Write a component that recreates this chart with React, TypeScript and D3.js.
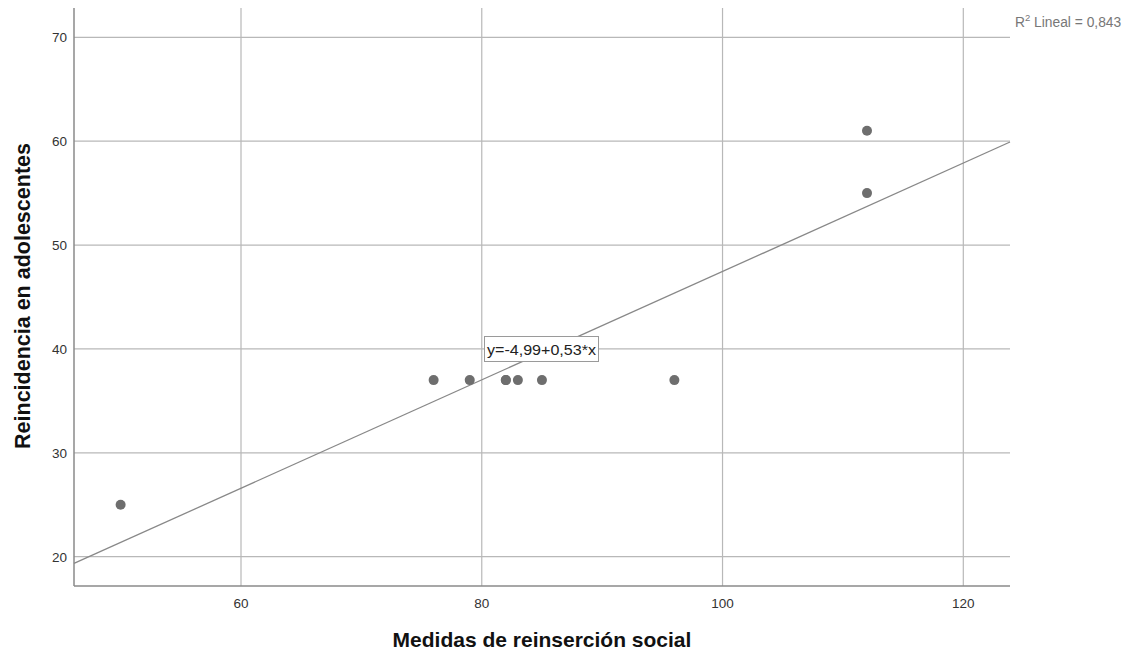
import React from "react";
import * as d3 from "d3";

const xValues = [50, 76, 79, 82, 82, 83, 85, 96, 112, 112];
const yValues = [25, 37, 37, 37, 37, 37, 37, 37, 61, 55];
const xTicks = [60, 80, 100, 120];
const yTicks = [20, 30, 40, 50, 60, 70];
const equationLabel = "y=-4,99+0,53*x";
const r2Label = "Lineal = 0,843";
const xTitle = "Medidas de reinserción social";
const yTitle = "Reincidencia en adolescentes";

const W = 1131;
const H = 657;
const left = 74;
const right = 1010;
const top = 8;
const bottom = 586;

export default function App() {
  const x = d3.scaleLinear().domain([60, 120]).range([241, 963.3]);
  const y = d3.scaleLinear().domain([20, 70]).range([556.7, 37.3]);
  const xMin = x.invert(left);
  const xMax = x.invert(right);

  const mx = d3.mean(xValues)!;
  const my = d3.mean(yValues)!;
  let sxy = 0, sxx = 0;
  xValues.forEach((v, i) => {
    sxy += (v - mx) * (yValues[i] - my);
    sxx += (v - mx) * (v - mx);
  });
  const slope = sxy / sxx;
  const intercept = my - slope * mx;
  const line = d3.line<number>().x((d) => x(d)).y((d) => y(intercept + slope * d));

  const font = "Arial, 'Liberation Sans', sans-serif";
  const grid = "#b8b8b8";
  const axis = "#8a8a8a";

  return (
    <svg width={W} height={H} style={{ position: "absolute", left: 0, top: 0, background: "#fff" }} fontFamily={font}>
      {yTicks.map((t) => (
        <line key={"gy" + t} x1={left} x2={right} y1={y(t)} y2={y(t)} stroke={grid} strokeWidth={1.2} />
      ))}
      {xTicks.map((t) => (
        <line key={"gx" + t} x1={x(t)} x2={x(t)} y1={top} y2={bottom} stroke={grid} strokeWidth={1.2} />
      ))}
      <line x1={left} x2={left} y1={top} y2={bottom} stroke={axis} strokeWidth={1.5} />
      <line x1={left} x2={right} y1={bottom} y2={bottom} stroke={axis} strokeWidth={1.5} />
      {yTicks.map((t) => (
        <text key={"ty" + t} x={67} y={y(t)} dy="0.36em" textAnchor="end" fontSize={13.5} fill="#333">
          {t}
        </text>
      ))}
      {xTicks.map((t) => (
        <text key={"tx" + t} x={x(t)} y={607.5} textAnchor="middle" fontSize={13.5} fill="#333">
          {t}
        </text>
      ))}
      <path d={line([xMin, xMax]) || ""} stroke="#888" strokeWidth={1.3} fill="none" />
      {xValues.map((v, i) => (
        <circle key={"p" + i} cx={x(v)} cy={y(yValues[i])} r={5} fill="#6e6e6e" />
      ))}
      <rect x={484.5} y={336.5} width={114} height={25} fill="#fff" stroke="#9a9a9a" strokeWidth={1} />
      <text x={487} y={355} fontSize={15.5} fill="#222" textLength={109} lengthAdjust="spacingAndGlyphs">{equationLabel}</text>
      <text x={1015} y={27} fontSize={13.8} fill="#777">
        R<tspan dy={-6} fontSize={9.5}>2</tspan>
        <tspan dy={6}> {r2Label}</tspan>
      </text>
      <text x={542} y={647} textAnchor="middle" fontSize={21} fontWeight="bold" fill="#111">
        {xTitle}
      </text>
      <text transform={`translate(30,${296}) rotate(-90)`} textAnchor="middle" fontSize={21.5} fontWeight="bold" fill="#111">
        {yTitle}
      </text>
    </svg>
  );
}
